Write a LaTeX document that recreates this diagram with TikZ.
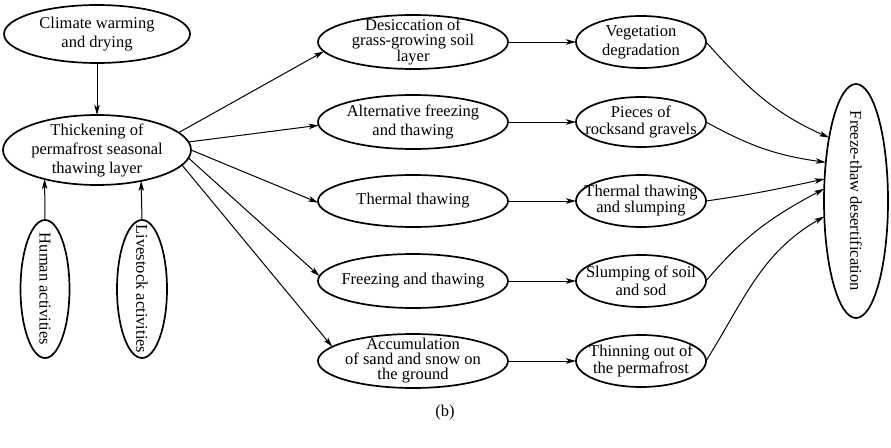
\documentclass[tikz,border=0pt]{standalone}
\usepackage{fontspec}
\setmainfont{Liberation Serif}
\usetikzlibrary{shapes.geometric, arrows.meta}
\begin{document}
\begin{tikzpicture}[x=1pt, y=1pt,
  ell/.style 2 args={ellipse, draw, line width=1.7pt, inner sep=0pt, outer sep=0pt, minimum width=#1, minimum height=#2},
  txt/.style={align=center, inner sep=0pt, font=\fontsize{16.5}{19}\selectfont},
  tight/.style={align=center, inner sep=0pt, font=\fontsize{16.5}{15}\selectfont},
  arr/.style={-{Stealth[length=10pt,width=5.5pt,inset=2.5pt]}, line width=1pt},
]
\useasboundingbox (0,0) rectangle (891,-447);
% left column
\node[ell={186}{58}, label={[txt]center:Climate warming\\and drying}] (clim) at (97,-34) {};
\node[ell={188}{70}, label={[txt]center:Thickening of\\permafrost seasonal\\thawing layer}] (thick) at (97,-150) {};
\node[ell={49}{138}, label={[txt, rotate=-90]center:Human activities}] (human) at (45,-289) {};
\node[ell={50}{138}, label={[txt, rotate=-90]center:Livestock activities}] (live) at (142,-289) {};
% middle column
\node[ell={190}{54}, label={[tight]center:Desiccation of\\grass-growing soil\\layer}] (desic) at (413,-42) {};
\node[ell={190}{54}, label={[txt]center:Alternative freezing\\and thawing}] (alt) at (413,-122) {};
\node[ell={190}{52}, label={[txt]center:Thermal thawing}] (therm) at (413,-201) {};
\node[ell={190}{54}, label={[txt]center:Freezing and thawing}] (freez) at (413,-281) {};
\node[ell={190}{54}, label={[tight]center:Accumulation\\of sand and snow on\\the ground}] (accum) at (413,-361) {};
% right column
\node[ell={130}{52}, label={[txt]center:Vegetation\\degradation}] (veg) at (641,-42) {};
\node[ell={130}{50}, label={[tight, font=\fontsize{16.5}{16.5}\selectfont]center:Pieces of\\rocksand gravels}] (pieces) at (641,-122) {};
\node[ell={130}{52}, label={[tight]center:Thermal thawing\\and slumping}] (tts) at (641,-201) {};
\node[ell={130}{52}, label={[txt, font=\fontsize{16.5}{17.5}\selectfont]center:Slumping of soil\\and sod}] (slump) at (641,-281) {};
\node[ell={130}{52}, label={[tight]center:Thinning out of\\the permafrost}] (thin) at (641,-361) {};
% far right
\node[ell={64}{234}, label={[txt, rotate=-90]center:Freeze-thaw desertification}] (ftd) at (856,-201) {};
% caption
\node[txt] (cap) at (445,-413) {(b)};
% connectors
\draw[arr] (clim.south) -- (thick.north);
\draw[arr] (human.north) -- (thick.209.3);
\draw[arr] (live.north) -- (thick.325.7);
\draw[arr] (thick.12.2) -- (desic.186.3);
\draw[arr] (thick.5.5) -- (alt.182);
\draw[arr] (thick.0.6) -- (therm.181);
\draw[arr] (thick.355.6) -- (freez.177);
\draw[arr] (thick.350) -- (accum.170.6);
\draw[arr] (desic.east) -- (veg.west);
\draw[arr] (alt.east) -- (pieces.west);
\draw[arr] (therm.east) -- (tts.west);
\draw[arr] (freez.east) -- (slump.west);
\draw[arr] (accum.east) -- (thin.west);
\draw[arr] (veg.east) to[out=-48, in=156] (ftd.113.7);
\draw[arr] (pieces.east) to[out=-29, in=172] (ftd.128.5);
\draw[arr] (tts.east) to[out=8, in=192] (ftd.145);
\draw[arr] (slump.east) to[out=50, in=208] (ftd.159);
\draw[arr] (thin.east) to[out=58, in=210] (ftd.206.6);
\end{tikzpicture}
\end{document}
